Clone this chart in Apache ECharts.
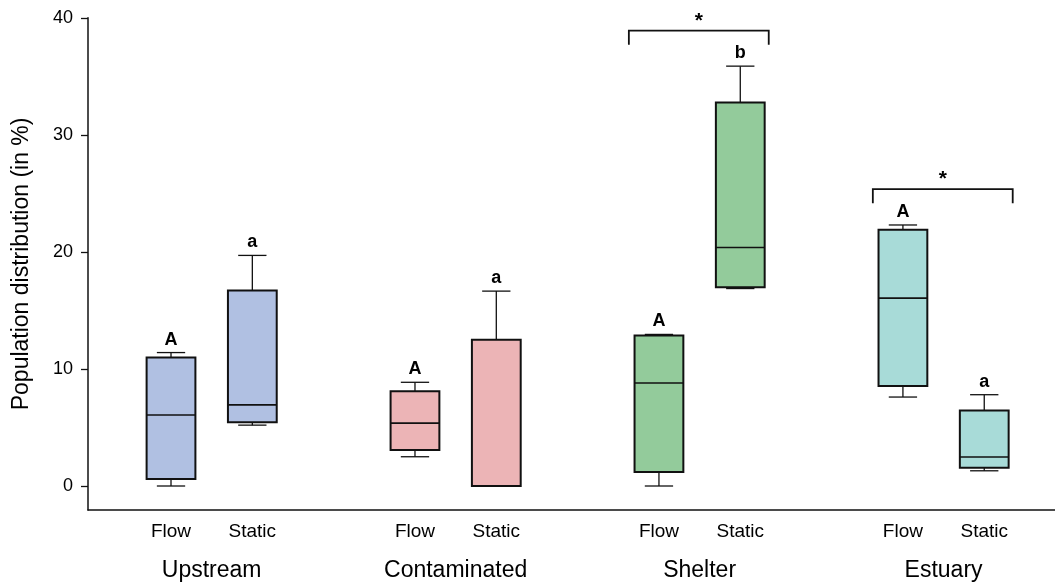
<!DOCTYPE html>
<html>
<head>
<meta charset="utf-8">
<script src="https://cdn.jsdelivr.net/npm/echarts@6/dist/echarts.min.js"></script>
<style>
  html, body { margin: 0; padding: 0; background: #fff; }
  #chart { width: 1055px; height: 583px; }
</style>
</head>
<body>
<div id="chart"></div>
<script>
// ---- data ----
const categories = ['Upstream', 'Contaminated', 'Shelter', 'Estuary'];
const conditions = ['Flow', 'Static'];
// [min, Q1, median, Q3, max]
const flowStats = [
  [0.0, 0.6, 6.07, 10.97, 11.4],
  [2.5, 3.08, 5.37, 8.1, 8.86],
  [0.0, 1.2, 8.8, 12.85, 12.95],
  [7.6, 8.55, 16.05, 21.9, 22.3]
];
const staticStats = [
  [5.2, 5.44, 6.93, 16.7, 19.7],
  [0.0, 0.0, 0.0, 12.5, 16.65],
  [16.87, 16.97, 20.37, 32.76, 35.87],
  [1.3, 1.56, 2.48, 6.45, 7.8]
];
const flowLetters = ['A', 'A', 'A', 'A'];
const staticLetters = ['a', 'a', 'b', 'a'];
// significance brackets: group and bracket height (in %)
const sigGroups = ['Shelter', 'Estuary'];
const sigLevels = [38.9, 25.36];
const yTicks = [0, 10, 20, 30, 40];

const groupColors = ['#B0C0E2', '#ECB4B6', '#93CB9B', '#A8DBD8'];
const FONT = "'Liberation Sans', Arial, sans-serif";

// layout: each group occupies 3 slots (Flow, Static, gap)
function slotX(g, c) { return g * 3 + c + 1; }

const boxData = [];
const letters = [];
categories.forEach((name, g) => {
  [flowStats, staticStats].forEach((stats, c) => {
    const s = stats[g];
    boxData.push([slotX(g, c), s[0], s[1], s[2], s[3], s[4], g]);
    letters.push(c === 0 ? flowLetters[g] : staticLetters[g]);
  });
});

const bracketData = sigGroups.map((name, i) => {
  const g = categories.indexOf(name);
  return [slotX(g, 0), slotX(g, 1), sigLevels[i]];
});

const chart = echarts.init(document.getElementById('chart'));

function renderBox(params, api) {
  const x = api.value(0);
  const g = api.value(6);
  const pMin = api.coord([x, api.value(1)]);
  const pQ1 = api.coord([x, api.value(2)]);
  const pMed = api.coord([x, api.value(3)]);
  const pQ3 = api.coord([x, api.value(4)]);
  const pMax = api.coord([x, api.value(5)]);
  const half = api.size([0.3, 0])[0];
  const capHalf = api.size([0.174, 0])[0];
  const cx = pMed[0];
  const thin = { stroke: '#111', lineWidth: 1.3 };
  const children = [
    { type: 'line', shape: { x1: cx, y1: pQ3[1], x2: cx, y2: pMax[1] }, style: thin },
    { type: 'line', shape: { x1: cx - capHalf, y1: pMax[1], x2: cx + capHalf, y2: pMax[1] }, style: thin },
    { type: 'line', shape: { x1: cx, y1: pQ1[1], x2: cx, y2: pMin[1] }, style: thin },
    { type: 'line', shape: { x1: cx - capHalf, y1: pMin[1], x2: cx + capHalf, y2: pMin[1] }, style: thin },
    { type: 'rect', shape: { x: cx - half, y: pQ3[1], width: half * 2, height: pQ1[1] - pQ3[1] },
      style: { fill: groupColors[g], stroke: '#111', lineWidth: 2 } },
    { type: 'line', shape: { x1: cx - half, y1: pMed[1], x2: cx + half, y2: pMed[1] },
      style: { stroke: '#111', lineWidth: 1.6 } },
    { type: 'text', x: cx, y: pMax[1] - 4,
      style: { text: letters[params.dataIndex], fill: '#000', font: 'bold 18px ' + FONT,
               textAlign: 'center', textVerticalAlign: 'bottom' } }
  ];
  return { type: 'group', children: children };
}

function renderBracket(params, api) {
  const x1 = api.value(0) - 0.37;
  const x2 = api.value(1) + 0.35;
  const y = api.value(2);
  const p1 = api.coord([x1, y]);
  const p2 = api.coord([x2, y]);
  const drop = 14;
  return {
    type: 'group',
    children: [
      { type: 'polyline',
        shape: { points: [[p1[0], p1[1] + drop], [p1[0], p1[1]], [p2[0], p2[1]], [p2[0], p2[1] + drop]] },
        style: { stroke: '#111', lineWidth: 1.8, fill: null } },
      { type: 'text', x: (p1[0] + p2[0]) / 2, y: p1[1] + 1,
        style: { text: '*', fill: '#000', font: 'bold 21px ' + FONT,
                 textAlign: 'center', textVerticalAlign: 'bottom' } }
    ]
  };
}

const xMin = -0.0207, xMax = 11.87;

chart.setOption({
  animation: false,
  backgroundColor: '#fff',
  grid: { left: 88, right: 0, top: 17.8, bottom: 73, containLabel: false, outerBoundsMode: 'none' },
  xAxis: [
    {
      type: 'value', position: 'bottom', min: xMin, max: xMax,
      axisLine: { show: true, onZero: false, lineStyle: { color: '#111', width: 1.5 } },
      axisTick: { show: false },
      splitLine: { show: false },
      axisLabel: {
        customValues: categories.flatMap((n, g) => [slotX(g, 0), slotX(g, 1)]),
        formatter: v => conditions[(Math.round(v) - 1) % 3],
        color: '#000', fontSize: 19, fontFamily: FONT, margin: 12
      }
    },
    {
      type: 'value', position: 'bottom', min: xMin, max: xMax,
      axisLine: { show: false, onZero: false }, axisTick: { show: false }, splitLine: { show: false },
      axisLabel: {
        customValues: categories.map((n, g) => slotX(g, 0.5)),
        formatter: v => categories[Math.floor(v / 3)],
        color: '#000', fontSize: 23, fontFamily: FONT, margin: 49
      }
    }
  ],
  yAxis: {
    type: 'value', min: -2.05, max: 40,
    name: 'Population distribution (in %)',
    nameLocation: 'middle', nameGap: 55,
    nameTextStyle: { color: '#000', fontSize: 23, fontFamily: FONT },
    axisLine: { show: true, onZero: false, lineStyle: { color: '#111', width: 1.5 } },
    axisTick: { show: true, customValues: yTicks, length: 7, lineStyle: { color: '#111', width: 1.3 } },
    splitLine: { show: false },
    axisLabel: { customValues: yTicks, color: '#000', fontSize: 18, fontFamily: FONT, margin: 15 }
  },
  series: [
    {
      type: 'custom', name: 'boxes', renderItem: renderBox, data: boxData, clip: false,
      encode: { x: 0, y: [1, 2, 3, 4, 5] }, silent: true
    },
    {
      type: 'custom', name: 'brackets', renderItem: renderBracket, data: bracketData, clip: false,
      encode: { x: [0, 1], y: 2 }, silent: true
    }
  ]
});
</script>
</body>
</html>
